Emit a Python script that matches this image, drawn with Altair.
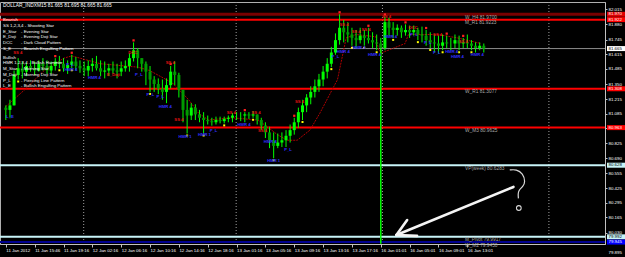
import altair as alt
import pandas as pd

FONT = "Liberation Sans"

title_text = "DOLLAR_INDXM15  81.665 81.695 81.665 81.665"

# ---------------- candle data (M15, every second bar) ----------------
first_open = 81.14
bar_high = [
    81.16, 81.21, 81.47, 81.58, 81.55, 81.54, 81.56, 81.55, 81.56, 81.58,
    81.56, 81.55, 81.58, 81.60, 81.58, 81.56, 81.61, 81.59, 81.56, 81.55,
    81.56, 81.58, 81.60, 81.56, 81.55, 81.53, 81.55, 81.53, 81.55, 81.56,
    81.62, 81.72, 81.67, 81.58, 81.55, 81.51, 81.42, 81.40, 81.39, 81.40,
    81.51, 81.55, 81.45, 81.28, 81.21, 81.18, 81.17, 81.12, 81.10, 81.07,
    81.05, 81.06, 81.06, 81.06, 81.07, 81.09, 81.10, 81.10, 81.10, 81.10,
    81.11, 81.08, 81.05, 81.01, 80.97, 80.92, 80.91, 80.92, 80.94, 80.99,
    81.05, 81.14, 81.21, 81.26, 81.33, 81.39, 81.44, 81.51, 81.58, 81.68,
    81.80, 81.97, 81.92, 81.90, 81.85, 81.83, 81.85, 81.83, 81.85, 81.81,
    81.79, 81.76, 81.95, 81.94, 81.90, 81.88, 81.87, 81.88, 81.87, 81.87,
    81.85, 81.86, 81.83, 81.81, 81.79, 81.78, 81.79, 81.78, 81.76, 81.79,
    81.78, 81.76, 81.79, 81.74, 81.72, 81.72, 81.71,
]
bar_low = [
    81.03, 81.05, 81.16, 81.39, 81.40, 81.42, 81.46, 81.43, 81.46, 81.47,
    81.44, 81.44, 81.47, 81.49, 81.46, 81.44, 81.49, 81.47, 81.45, 81.42,
    81.42, 81.46, 81.47, 81.42, 81.40, 81.42, 81.44, 81.40, 81.42, 81.46,
    81.46, 81.55, 81.49, 81.46, 81.34, 81.28, 81.28, 81.26, 81.21, 81.18,
    81.31, 81.34, 81.23, 81.01, 80.91, 81.03, 81.03, 81.01, 80.91, 80.99,
    80.98, 80.99, 81.00, 81.00, 81.01, 81.01, 81.03, 81.02, 81.01, 81.04,
    81.05, 80.99, 80.94, 80.87, 80.78, 80.69, 80.78, 80.79, 80.79, 80.83,
    80.90, 80.96, 81.03, 81.10, 81.17, 81.23, 81.28, 81.33, 81.40, 81.50,
    81.61, 81.70, 81.72, 81.72, 81.69, 81.67, 81.71, 81.69, 81.71, 81.67,
    81.65, 81.62, 81.65, 81.78, 81.76, 81.78, 81.76, 81.78, 81.76, 81.78,
    81.74, 81.72, 81.69, 81.67, 81.63, 81.62, 81.65, 81.67, 81.65, 81.67,
    81.65, 81.67, 81.67, 81.65, 81.63, 81.65, 81.63,
]
bar_close = [
    81.12, 81.16, 81.43, 81.49, 81.46, 81.51, 81.49, 81.47, 81.53, 81.51,
    81.47, 81.51, 81.55, 81.53, 81.49, 81.52, 81.55, 81.51, 81.49, 81.47,
    81.51, 81.53, 81.49, 81.46, 81.47, 81.49, 81.47, 81.46, 81.49, 81.51,
    81.58, 81.65, 81.58, 81.53, 81.46, 81.39, 81.35, 81.31, 81.28, 81.34,
    81.46, 81.43, 81.30, 81.12, 81.07, 81.14, 81.08, 81.05, 81.03, 81.02,
    81.01, 81.03, 81.02, 81.04, 81.05, 81.07, 81.07, 81.07, 81.08, 81.07,
    81.08, 81.03, 80.98, 80.92, 80.85, 80.80, 80.83, 80.85, 80.89, 80.94,
    81.01, 81.10, 81.16, 81.23, 81.28, 81.33, 81.39, 81.46, 81.53, 81.63,
    81.74, 81.85, 81.81, 81.79, 81.76, 81.74, 81.78, 81.76, 81.74, 81.72,
    81.71, 81.67, 81.90, 81.85, 81.83, 81.85, 81.81, 81.83, 81.81, 81.83,
    81.79, 81.78, 81.74, 81.72, 81.71, 81.69, 81.72, 81.71, 81.71, 81.74,
    81.71, 81.72, 81.71, 81.69, 81.67, 81.69, 81.665,
]

# moving-average style indicator (dark red)
ma_x = [0, 4.6, 9.3, 14.1, 16.0, 23.0, 32.0, 34.9, 40.4, 44.4, 46.8, 49.2, 54.7,
        61.1, 63.5, 65.9, 68.3, 70.7, 73.8, 76.2, 80.5, 82.6, 85.0, 89.8, 90.5,
        91.4, 96.9, 97.7, 104.8, 109.6, 115.3]
ma_val = [81.15, 81.30, 81.47, 81.58, 81.60, 81.53, 81.50, 81.47, 81.36, 81.21,
          81.09, 81.03, 81.05, 81.03, 80.97, 80.90, 80.85, 80.85, 80.94, 81.09,
          81.39, 81.76, 81.79, 81.77, 81.65, 81.63, 81.71, 81.79, 81.79, 81.76, 81.71]

# time axis
time_labels = ["11 Jan 2012", "11 Jan 15:46", "11 Jan 19:16", "12 Jan 02:16",
               "12 Jan 06:16", "12 Jan 10:16", "12 Jan 14:16", "12 Jan 18:16",
               "13 Jan 01:16", "13 Jan 05:16", "13 Jan 09:16", "13 Jan 13:16",
               "13 Jan 17:16", "16 Jan 01:01", "16 Jan 05:01", "16 Jan 09:01",
               "16 Jan 13:01"]
time_step = 7
day_separators = [18.9, 55.9, 91.4, 131.8]
gap_line_x = [91.0]
gap_line_top = [81.66]
gap_line_bottom = [79.93]

# price axis
price_ticks = [82.015, 81.880, 81.745, 81.615, 81.485, 81.350, 81.215, 81.085,
               80.955, 80.825, 80.690, 80.555, 80.425, 80.295, 80.165, 80.030]
bottom_price = [79.895]

# horizontal levels
level_price = [81.970, 81.9223, 81.665, 81.3077, 80.9625, 80.6283, 79.9917, 79.9450]
level_name = ["W_H4 81.9700", "M_R1 81.9223", "", "W_R1 81.3077", "W_M3 80.9625",
              "VP(week) 80.6283", "M_Pivot 79.9917", "W_M2 79.9450"]
level_box = ["81.970", "81.922", "81.665", "81.308", "80.963", "80.628", "79.992", "79.945"]
# styles of the levels
level_color = ["#7a0000", "#ff0000", "#8c8c8c", "#ff0000", "#ff0000", "#c8f4f8", "#c8f4f8", "#000090"]
level_width = [3, 2, 1, 2, 2, 2, 2, 2]
box_fill = ["#e00000", "#ff0000", "#ffffff", "#ff0000", "#ff0000", "#c8f4f8", "#c8f4f8", "#0000ff"]
box_text = ["#ffffff", "#ffffff", "#000000", "#ffffff", "#ffffff", "#000000", "#000000", "#ffffff"]

# candle pattern labels
bull_x = [1.0, 15.6, 15.8, 21.5, 32.3, 35.1, 37.5, 38.7, 43.5, 48.2, 50.4, 57.8, 64.2,
          65.0, 68.5, 80.0, 81.9, 85.7, 89.5, 93.4, 99.1, 102.4, 104.6, 108.2, 109.6, 114.4]
bull_p = [81.057, 81.519, 81.475, 81.403, 81.430, 81.252, 81.235, 81.146, 80.879, 80.897,
          80.932, 80.986, 80.835, 80.666, 80.763, 81.590, 81.635, 81.670, 81.608, 81.768,
          81.786, 81.715, 81.626, 81.635, 81.590, 81.608]
bull_t = ["L_E", "P_L", "HMR 4", "HMR 4", "P_L", "P_L", "P_L", "HMR 4", "HMR 1", "HMR 1",
          "P_L", "HMR 4", "HMR 4", "HMR 1", "P_L", "P_L", "HMR 4", "HMR 4", "HMR 4", "HMR 4",
          "P_L", "P_L", "P_L", "HMR 4", "HMR 4", "HMR 4"]
bear_x = [2.9, 30.8, 39.9, 26.1, 42.0, 54.7, 60.7, 62.3, 71.3, 82.1, 85.0, 87.4, 92.4,
          98.8, 104.8, 111.0]
bear_p = [81.626, 81.626, 81.537, 81.430, 81.030, 81.092, 81.092, 80.932, 81.190, 81.875,
          81.812, 81.830, 81.946, 81.848, 81.786, 81.723]
bear_t = ["SS 4", "DCC", "SS 4", "E_Doji", "SS 4", "SS 4", "SS 4", "SS 4", "SS 4", "SS 4",
          "SS 4", "SS 4", "SS 4", "DCC", "SS 4", "SS 4"]

low_marks = [3, 13, 16, 35, 44, 48, 53, 60, 65, 72, 79, 84, 87, 90, 94, 100, 103, 106, 110, 113]
high_marks = [12, 16, 31, 40, 58, 70, 81, 88, 92, 97, 102, 107, 111]

# hand-drawn annotation (arrow and question mark)
arrow_seg = [0, 0, 1, 1, 2, 2]
arrow_x = [123.2, 94.8, 94.8, 97.4, 94.8, 99.8]
arrow_p = [80.435, 80.008, 80.008, 80.141, 80.008, 80.000]
qm_x = [122.3, 123.9, 125.5, 126.1, 125.5, 124.5, 124.3, 124.4]
qm_p = [80.586, 80.592, 80.556, 80.482, 80.437, 80.408, 80.372, 80.334]
qm_dot_x = [124.5]
qm_dot_p = [80.248]

# legend text block (top-left)
bear_head = "Bearish\nSS 1,2,3,4 - Shooting Star"
bear_codes = "E_Star\nE_Doji\nDCC\nS_E"
bear_desc = "- Evening Star\n- Evening Doji Star\n- Dark Cloud Pattern\n- Bearish Engulfing Pattern"
bull_head = "Bullish\nHMR 1,2,3,4 - Bullish Hammer"
bull_codes = "M_Star\nM_Doji\nP_L\nL_E"
bull_desc = "- Morning Star\n- Morning Doji Star\n- Piercing Line Pattern\n- Bullish Engulfing Pattern"

# ---------------- build ----------------
n = len(bar_close)
opens = [first_open] + bar_close[:-1]
candles = pd.DataFrame({"i": list(range(n)), "open": opens, "high": bar_high,
                        "low": bar_low, "close": bar_close})

xscale = alt.Scale(domain=[-0.2, 144.2], nice=False, zero=False)
yscale = alt.Scale(domain=[79.928, 82.079], nice=False, zero=False)

label_expr = " : ".join(
    f"datum.value == {k * time_step} ? '{lab}'" for k, lab in enumerate(time_labels)
) + " : ''"

xaxis = alt.Axis(values=[k * time_step for k in range(len(time_labels))], labelExpr=label_expr,
                 orient="bottom", grid=False, title=None, labelColor="#ffffff",
                 labelFont=FONT, labelFontSize=4.4, labelAlign="left", labelBaseline="top",
                 labelPadding=1, tickSize=3, tickColor="#c0c0c0",
                 domainColor="#c0c0c0", labelOverlap=False, labelFlush=False)
yaxis = alt.Axis(values=price_ticks, format=".3f", orient="right", grid=False, title=None,
                 labelColor="#ffffff", labelFont=FONT, labelFontSize=4.4, labelPadding=1,
                 tickSize=2, tickColor="#c0c0c0", domainColor="#c0c0c0",
                 labelOverlap=False, labelFlush=False, labelBaseline="middle")


def X(field):
    return alt.X(field, scale=xscale, axis=xaxis)


def Y(field):
    return alt.Y(field, scale=yscale, axis=yaxis)


levels = pd.DataFrame({"price": level_price, "name": level_name, "box": level_box,
                       "color": level_color, "w": level_width, "fill": box_fill,
                       "tcol": box_text})

level_lines = alt.Chart(levels).mark_rule().encode(
    y=Y("price:Q"),
    color=alt.Color("color:N", scale=None),
    strokeWidth=alt.StrokeWidth("w:Q", scale=None),
)
level_text = alt.Chart(levels).transform_filter("datum.name != ''").mark_text(
    align="left", baseline="top", dy=0.5, font=FONT, fontSize=4.8, color="#a8a8a8"
).encode(x=alt.value(465), y=Y("price:Q"), text="name:N")

boxes = alt.Chart(levels).mark_rule(strokeWidth=5).encode(
    x=alt.value(607), x2=alt.value(625), y=Y("price:Q"),
    color=alt.Color("fill:N", scale=None))
box_labels = alt.Chart(levels).mark_text(
    align="left", baseline="middle", font=FONT, fontSize=4.4
).encode(x=alt.value(608.5), y=Y("price:Q"), text="box:N",
         color=alt.Color("tcol:N", scale=None))

bottom_lab = alt.Chart(pd.DataFrame({"p": bottom_price})).mark_text(
    align="left", baseline="middle", font=FONT, fontSize=4.4, color="#ffffff", dy=5
).encode(x=alt.value(608.5), y=Y("p:Q"), text=alt.Text("p:Q", format=".3f"))

seps = alt.Chart(pd.DataFrame({"x": day_separators})).mark_rule(
    color="#a0a0a0", strokeDash=[1, 2], strokeWidth=1).encode(x=X("x:Q"))

gap = alt.Chart(pd.DataFrame({"x": gap_line_x, "t": gap_line_top, "b": gap_line_bottom})).mark_rule(
    color="#00ff00", strokeWidth=1.5).encode(x=X("x:Q"), y=Y("t:Q"), y2="b:Q")

wicks = alt.Chart(candles).mark_rule(color="#00ff00", strokeWidth=1).encode(
    x=X("i:Q"), y=Y("low:Q"), y2="high:Q")
bodies = alt.Chart(candles).mark_bar(size=3).encode(
    x=X("i:Q"), y=Y("open:Q"), y2="close:Q",
    color=alt.condition("datum.close >= datum.open", alt.value("#00ff00"), alt.value("#009a00")))

ma = alt.Chart(pd.DataFrame({"x": ma_x, "v": ma_val})).mark_line(
    color="#b00000", strokeWidth=1, strokeDash=[2, 1]).encode(x=X("x:Q"), y=Y("v:Q"))

lowdots = alt.Chart(candles).transform_filter(
    alt.FieldOneOfPredicate(field="i", oneOf=low_marks)
).mark_square(size=4, color="#ffff00", opacity=1, yOffset=2).encode(x=X("i:Q"), y=Y("low:Q"))
highdots = alt.Chart(candles).transform_filter(
    alt.FieldOneOfPredicate(field="i", oneOf=high_marks)
).mark_square(size=5, color="#ff2020", opacity=1, yOffset=-2).encode(x=X("i:Q"), y=Y("high:Q"))

bull_lab = alt.Chart(pd.DataFrame({"x": bull_x, "p": bull_p, "t": bull_t})).mark_text(
    font=FONT, fontSize=4.2, fontWeight="bold", color="#3030ff").encode(
    x=X("x:Q"), y=Y("p:Q"), text="t:N")
bear_lab = alt.Chart(pd.DataFrame({"x": bear_x, "p": bear_p, "t": bear_t})).mark_text(
    font=FONT, fontSize=4.2, fontWeight="bold", color="#e01010").encode(
    x=X("x:Q"), y=Y("p:Q"), text="t:N")

arrow = alt.Chart(pd.DataFrame({"s": arrow_seg, "x": arrow_x, "p": arrow_p,
                                "o": list(range(len(arrow_x)))})).mark_line(
    color="#f4f4f4", strokeWidth=2.6, strokeCap="round").encode(
    x=X("x:Q"), y=Y("p:Q"), detail="s:N", order="o:Q")
qmark = alt.Chart(pd.DataFrame({"x": qm_x, "p": qm_p, "o": list(range(len(qm_x)))})).mark_line(
    color="#d8d8d8", strokeWidth=1.2, interpolate="basis").encode(
    x=X("x:Q"), y=Y("p:Q"), order="o:Q")
qdot = alt.Chart(pd.DataFrame({"x": qm_dot_x, "p": qm_dot_p})).mark_point(
    shape="circle", size=22, filled=False, color="#d8d8d8", strokeWidth=1.1, opacity=1).encode(
    x=X("x:Q"), y=Y("p:Q"))

LH = 5.8


def txt(s, x, y, size=4.4, color="#ffffff"):
    return alt.Chart(pd.DataFrame({"t": [s]})).mark_text(
        align="left", baseline="top", font=FONT, fontSize=size, color=color,
        lineBreak="\n", lineHeight=LH).encode(x=alt.value(x), y=alt.value(y), text="t:N")


title = txt(title_text, 3, 1, size=4.9)
leg = [
    txt(bear_head, 3, 16),
    txt(bear_codes, 3, 16 + 2 * LH),
    txt(bear_desc, 21, 16 + 2 * LH),
    txt(bull_head, 3, 53.5),
    txt(bull_codes, 3, 53.5 + 2 * LH),
    txt(bull_desc, 21, 53.5 + 2 * LH),
]

chart = alt.layer(
    seps, level_lines, gap, ma, wicks, bodies, lowdots, highdots,
    bull_lab, bear_lab, level_text, arrow, qmark, qdot,
    boxes, box_labels, bottom_lab, title, *leg,
).properties(
    width=605, height=242,
    autosize=alt.AutoSizeParams(type="none"),
    padding={"left": 0, "top": 2, "right": 20, "bottom": 13},
    background="#000000",
).configure_view(stroke="#b0b0b0", strokeWidth=1, fill="#000000")

chart.save("out.html", embed_options={"renderer": "svg", "actions": False})
